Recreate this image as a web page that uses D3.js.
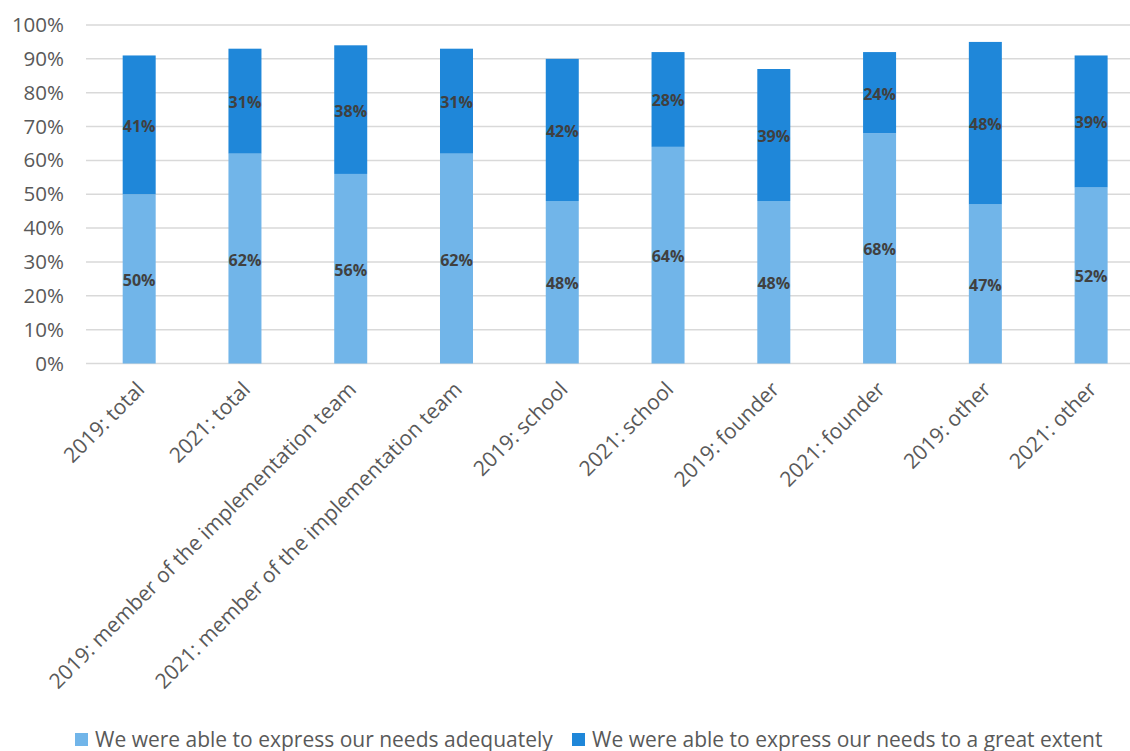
<!DOCTYPE html>
<html>
<head>
<meta charset="utf-8">
<script src="https://cdn.jsdelivr.net/npm/d3@7"></script>
<style>
  html, body { margin: 0; padding: 0; background: #ffffff; }
  svg { display: block; }
</style>
</head>
<body>
<svg id="chart" width="1130" height="751"></svg>
<script>
// Respondent groups, by survey year
const categories = [
  "2019: total",
  "2021: total",
  "2019: member of the implementation team",
  "2021: member of the implementation team",
  "2019: school",
  "2021: school",
  "2019: founder",
  "2021: founder",
  "2019: other",
  "2021: other"
];

// Share of respondents (%) per answer
const adequately = [50, 62, 56, 62, 48, 64, 48, 68, 47, 52];
const greatExtent = [41, 31, 38, 31, 42, 28, 39, 24, 48, 39];

const seriesNames = [
  "We were able to express our needs adequately",
  "We were able to express our needs to a great extent"
];

const yTicks = [0, 10, 20, 30, 40, 50, 60, 70, 80, 90, 100];

const colors = ["#71b5e9", "#1f87d9"];
const font = "'Open Sans', 'Liberation Sans', sans-serif";

const svg = d3.select("#chart");

const x = d3.scaleBand()
  .domain(categories)
  .range([86.3, 1144])
  .paddingInner(0.688)
  .paddingOuter(0.344);

const y = d3.scaleLinear().domain([0, 100]).range([363.5, 25]);

// Horizontal gridlines
svg.append("g")
  .selectAll("line")
  .data(yTicks)
  .join("line")
  .attr("x1", 86)
  .attr("x2", 1130)
  .attr("y1", d => y(d))
  .attr("y2", d => y(d))
  .attr("stroke", "#d9d9d9")
  .attr("stroke-width", 1.5);

// Y axis labels
const yAxis = svg.append("g")
  .attr("transform", "translate(70,0)")
  .call(d3.axisLeft(y).tickValues(yTicks).tickFormat(d => d + "%").tickSize(0).tickPadding(6));
yAxis.select(".domain").remove();
yAxis.selectAll("text")
  .attr("fill", "#595959")
  .style("font-family", font)
  .style("font-size", "20.5px");

// Stacked data
const rows = categories.map((c, i) => ({ cat: c, a: adequately[i], b: greatExtent[i] }));
const stack = d3.stack().keys(["a", "b"])(rows);

const layers = svg.append("g")
  .selectAll("g")
  .data(stack)
  .join("g")
  .attr("fill", (d, i) => colors[i]);

layers.selectAll("rect")
  .data(d => d)
  .join("rect")
  .attr("x", d => x(d.data.cat))
  .attr("width", x.bandwidth())
  .attr("y", d => y(d[1]))
  .attr("height", d => y(d[0]) - y(d[1]));

// Value labels centred in each segment
layers.selectAll("text")
  .data(d => d)
  .join("text")
  .attr("x", d => x(d.data.cat) + x.bandwidth() / 2)
  .attr("y", d => y((d[0] + d[1]) / 2) + 1)
  .attr("text-anchor", "middle")
  .attr("dominant-baseline", "central")
  .attr("fill", "#404040")
  .style("font-family", font)
  .style("font-size", "16px")
  .style("font-weight", "bold")
  .text(d => (d[1] - d[0]) + "%");

// Category labels, rotated
svg.append("g")
  .selectAll("text")
  .data(categories)
  .join("text")
  .attr("transform", d => `translate(${x(d) + x.bandwidth() / 2 + 1},${385}) rotate(-45)`)
  .attr("text-anchor", "end")
  .attr("dominant-baseline", "central")
  .attr("fill", "#595959")
  .style("font-family", font)
  .style("font-size", "21px")
  .text(d => d);

// Legend
const legendX = [75, 572];
const legend = svg.append("g")
  .selectAll("g")
  .data(seriesNames)
  .join("g")
  .attr("transform", (d, i) => `translate(${legendX[i]},733)`);
legend.append("rect")
  .attr("width", 13)
  .attr("height", 13)
  .attr("fill", (d, i) => colors[i]);
legend.append("text")
  .attr("x", 20)
  .attr("y", 5.5)
  .attr("dominant-baseline", "central")
  .attr("fill", "#595959")
  .style("font-family", font)
  .style("font-size", "21px")
  .text(d => d);
</script>
</body>
</html>
